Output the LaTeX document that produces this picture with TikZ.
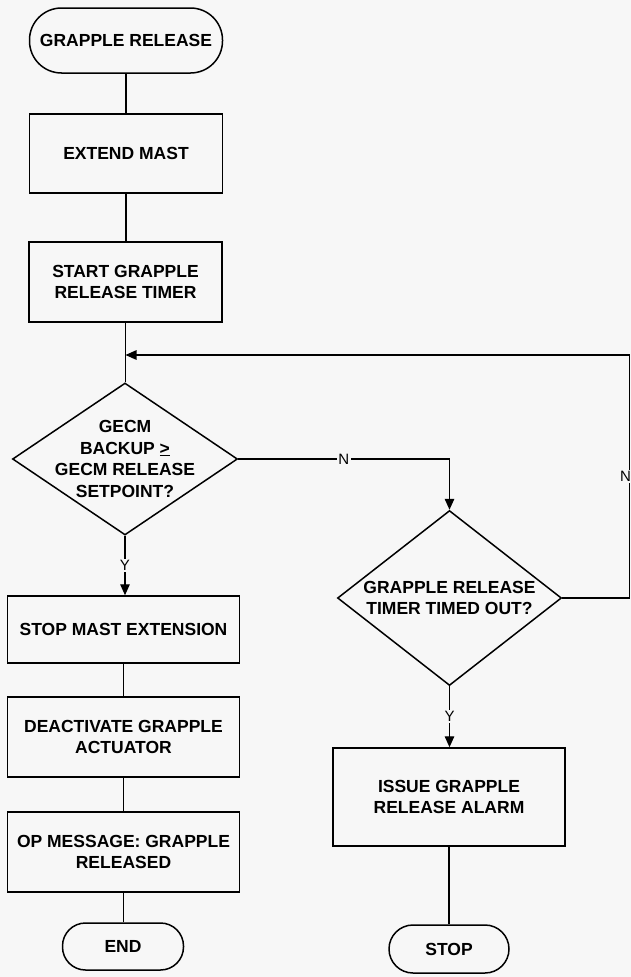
\documentclass[tikz,border=0pt]{standalone}
\usepackage{fontspec}
\setmainfont{Liberation Sans}
\usetikzlibrary{shapes.geometric,arrows.meta}
\definecolor{paper}{HTML}{F7F7F7}

\begin{document}
\begin{tikzpicture}[x=1pt,y=-1pt,
  every node/.style={font=\fontsize{17.5}{21.5}\selectfont\bfseries, align=center},
  flow/.style={line width=1.4pt},
  arr/.style={flow,-{Triangle[length=11pt,width=9.5pt]}},
  procbox/.style={draw, rectangle, line width=1.5pt, inner sep=0pt},
  terminal/.style={draw, rectangle, rounded corners=#1, line width=1.5pt, inner sep=0pt},
  decision/.style={draw, diamond, line width=1.5pt, inner sep=0pt},
  yn/.style={font=\fontsize{15}{15}\selectfont, fill=paper, inner sep=1.5pt}
]
% page and background
\fill[paper] (0,0) rectangle (631,977);
\useasboundingbox (0,0) rectangle (631,977);

% main column
\node[terminal=32pt, minimum width=193pt, minimum height=65pt] (start) at (126,40.5) {GRAPPLE RELEASE};
\node[procbox, minimum width=193pt, minimum height=79pt] (extend) at (126,153.5) {EXTEND MAST};
\node[procbox, minimum width=193pt, minimum height=80pt] (timer) at (125.5,282) {START GRAPPLE\\RELEASE TIMER};
\node[decision, minimum width=225pt, minimum height=152pt,
      label={[name=d1t]center:{GECM\\BACKUP \underline{>}\\GECM RELEASE\\SETPOINT?}}] (d1) at (125,459) {};
\node[procbox, minimum width=232pt, minimum height=67pt] (stopmast) at (123.5,629.5) {STOP MAST EXTENSION};
\node[procbox, minimum width=232pt, minimum height=80pt] (deact) at (123.5,737) {DEACTIVATE GRAPPLE\\ACTUATOR};
\node[procbox, minimum width=232pt, minimum height=80pt] (opmsg) at (123.5,852) {OP MESSAGE: GRAPPLE\\RELEASED};
\node[terminal=23pt, minimum width=121pt, minimum height=47pt] (end) at (123,946.5) {END};

% timeout branch
\node[decision, minimum width=224pt, minimum height=175pt,
      label={[name=d2t]center:{GRAPPLE RELEASE\\TIMER TIMED OUT?}}] (d2) at (449.5,598) {};
\node[procbox, minimum width=232pt, minimum height=98pt] (issue) at (449,797) {ISSUE GRAPPLE\\RELEASE ALARM};
\node[terminal=24pt, minimum width=120pt, minimum height=48pt] (stop) at (449,949) {STOP};

\coordinate (rt) at (629.5,355);

% connectors
\draw[flow] (start.south) -- (start.south |- extend.north);
\draw[flow] (extend.south) -- (extend.south |- timer.north);
\draw[flow] (timer.south) -- (timer.south |- d1.north);
\draw[arr] (d1.south) -- node[yn] {Y} (d1.south |- stopmast.north);
\draw[flow] (stopmast.south) -- (deact.north);
\draw[flow] (deact.south) -- (opmsg.north);
\draw[flow] (opmsg.south) -- (opmsg.south |- end.north);
\draw[arr] (d1.east) -| node[yn, pos=0.25] {N} (d2.north);
\draw[arr] (d2.south) -- node[yn] {Y} (d2.south |- issue.north);
\draw[flow] (issue.south) -- (issue.south |- stop.north);
\draw[arr] (d2.east) -| node[yn, pos=0.75, xshift=-4pt] {N} (rt) -- (timer.south |- rt);
\end{tikzpicture}
\end{document}
